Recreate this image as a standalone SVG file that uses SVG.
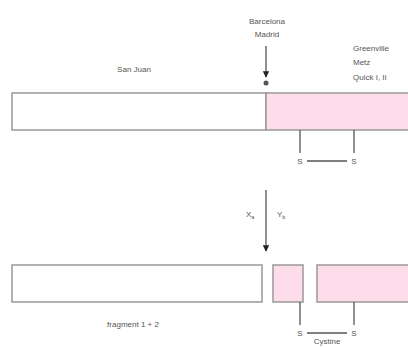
<svg xmlns="http://www.w3.org/2000/svg" width="408" height="347" viewBox="0 0 408 347">
<defs>
<style>
text{font-family:"Liberation Sans",Arial,sans-serif;font-size:8px;fill:#555}
.bar{stroke:#999;stroke-width:1.5}
.w{fill:#fff}
.p{fill:#fddde9}
.ln{stroke:#555;stroke-width:1.3;fill:none}
</style>
<marker id="ah" viewBox="0 0 10 10" refX="9" refY="5" markerWidth="5" markerHeight="5" orient="auto"><path d="M0,0 L10,5 L0,10 z" fill="#222"/></marker>
</defs>
<g id="top-bar">
<rect class="bar w" x="12" y="93" width="254" height="37"/>
<rect class="bar p" x="266" y="93" width="145" height="37"/>
</g>
<g id="labels-top">
<text x="267" y="24" text-anchor="middle">Barcelona</text>
<text x="267" y="37" text-anchor="middle">Madrid</text>
<text x="134" y="72" text-anchor="middle">San Juan</text>
<text x="353" y="51">Greenville</text>
<text x="353" y="65">Metz</text>
<text x="353" y="80">Quick I, II</text>
<circle cx="266" cy="83" r="2.5" fill="#555"/>
</g>
<g id="ss-top">
<text x="300" y="164" text-anchor="middle">S</text>
<text x="354" y="164" text-anchor="middle">S</text>
</g>
<g id="bottom-bars">
<rect class="bar w" x="12" y="265" width="250" height="37"/>
<rect class="bar p" x="273" y="265" width="30" height="37"/>
<rect class="bar p" x="317" y="265" width="94" height="37"/>
</g>
<g id="labels-bottom">
<text x="133" y="327" text-anchor="middle">fragment 1 + 2</text>
<text x="300" y="336" text-anchor="middle">S</text>
<text x="354" y="336" text-anchor="middle">S</text>
<text x="327" y="344" text-anchor="middle" font-size="7">Cystine</text>
<text x="246" y="217">X<tspan font-size="5.5" dy="2">a</tspan></text>
<text x="277" y="217">Y<tspan font-size="5.5" dy="2">b</tspan></text>
</g>
<g id="connectors">
<line class="ln" x1="266" y1="46" x2="266" y2="77" marker-end="url(#ah)"/>
<line class="ln" x1="266" y1="190" x2="266" y2="251" marker-end="url(#ah)"/>
<line class="ln" x1="300" y1="130" x2="300" y2="153"/>
<line class="ln" x1="354" y1="130" x2="354" y2="153"/>
<line class="ln" x1="307" y1="161" x2="347" y2="161"/>
<line class="ln" x1="300" y1="302" x2="300" y2="325"/>
<line class="ln" x1="354" y1="302" x2="354" y2="325"/>
<line class="ln" x1="307" y1="333" x2="347" y2="333"/>
</g>
</svg>
